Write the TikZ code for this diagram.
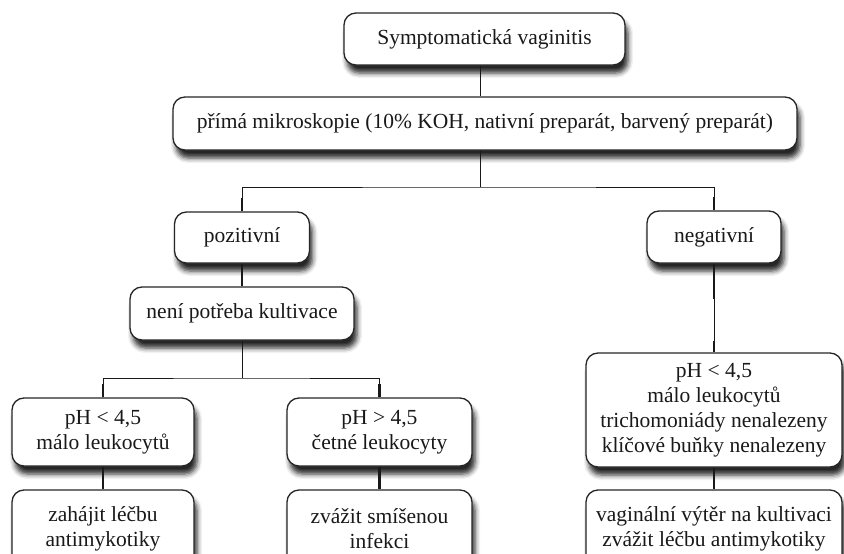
\documentclass[tikz,border=0pt]{standalone}
\usepackage{fontspec}
\setmainfont{Liberation Serif}
\usetikzlibrary{shadows.blur}
\begin{document}
\begin{tikzpicture}[x=1pt,y=-1pt,
  box/.style={draw=black!85, line width=1.3pt, rounded corners=12pt, fill=white,
    align=center, inner sep=0pt, text=black!90,
    font=\fontsize{21.5}{25}\selectfont,
    blur shadow={shadow xshift=3pt, shadow yshift=-8pt, shadow blur radius=5pt, shadow opacity=85}},
  conn/.style={line width=1pt, draw=black!90},
  thk/.style={line width=2.6pt, draw=black!90}]
\useasboundingbox (0,0) rectangle (844,554);
\clip (0,0) rectangle (844,554);

\coordinate (b1) at (480,187);
\coordinate (b2) at (242,378);

\node[box, minimum width=281pt, minimum height=52pt] (top) at (484.5,39) {Symptomatická vaginitis};
\node[box, minimum width=624pt, minimum height=53pt] (micro) at (485,123.5) {přímá mikroskopie (10\% KOH, nativní preparát, barvený preparát)};
\node[box, minimum width=135pt, minimum height=51pt] (poz) at (242,237.5) {pozitivní};
\node[box, minimum width=134pt, minimum height=52pt] (neg) at (714,237) {negativní};
\node[box, minimum width=224pt, minimum height=53pt] (neni) at (242,313.5) {není potřeba kultivace};
\node[box, minimum width=182pt, minimum height=68pt] (ph1) at (103,432) {pH < 4,5\\málo leukocytů};
\node[box, minimum width=185pt, minimum height=68pt] (ph2) at (379.5,432) {pH > 4,5\\četné leukocyty};
\node[box, minimum width=182pt, minimum height=78pt] (zah) at (103,529) {zahájit léčbu\\antimykotiky};
\node[box, minimum width=185pt, minimum height=78pt] (zva) at (379.5,529) {zvážit smíšenou\\infekci};
\node[box, minimum width=256pt, minimum height=114pt] (rph) at (714,410) {pH < 4,5\\málo leukocytů\\trichomoniády nenalezeny\\klíčové buňky nenalezeny};
\node[box, minimum width=256pt, minimum height=78pt] (vag) at (714,529) {vaginální výtěr na kultivaci\\zvážit léčbu antimykotiky};

% connectors
\draw[conn] (b1 |- top.south) -- (b1 |- micro.north);
\draw[conn] (b1 |- micro.south) -- (b1);
\draw[conn] (poz.north) |- (b1) -| (neg.north);
\draw[thk] (poz.north) -- ++(0,-13);
\draw[thk] (neg.north) -- ++(0,-13);
\draw[thk] (poz.south) -- (neni.north);
\draw[conn] (neni.south) -- (b2);
\draw[conn] (ph1.north) |- (b2) -| (ph2.north);
\draw[thk] (ph1.north) -- ++(0,-13);
\draw[thk] (ph2.north) -- ++(0,-13);
\draw[thk] (ph1.south) -- (zah.north);
\draw[thk] (ph2.south) -- (zva.north);
\draw[conn] (neg.south) -- (rph.north);
\draw[thk] (neg.south) -- ++(0,35);
\draw[thk] (rph.north) -- ++(0,-11);
\draw[thk] (rph.south) -- (vag.north);
\end{tikzpicture}
\end{document}
